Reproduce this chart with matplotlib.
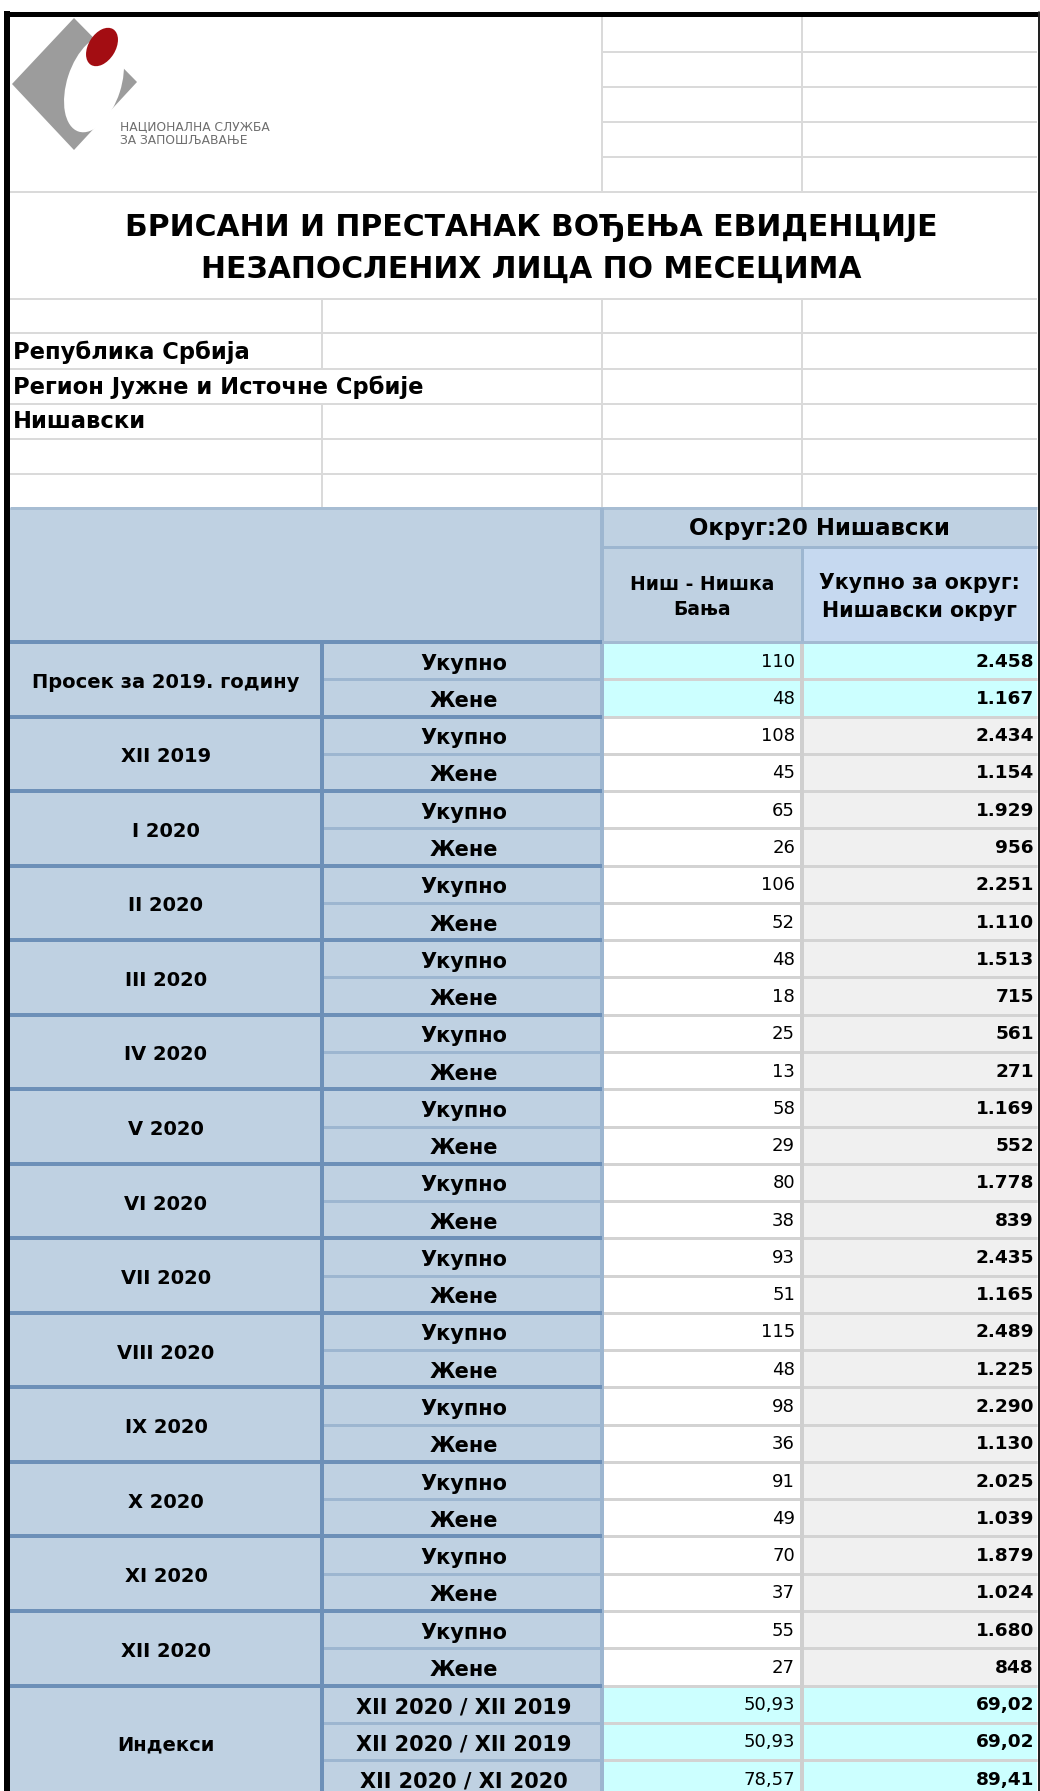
import matplotlib.pyplot as plt
from matplotlib.patches import Rectangle, Polygon, Ellipse

plt.rcParams['font.family'] = ['DejaVu Sans']

# ---- data read from the sheet ----
title_lines = ["БРИСАНИ И ПРЕСТАНАК ВОЂЕЊА ЕВИДЕНЦИЈЕ",
               "НЕЗАПОСЛЕНИХ ЛИЦА ПО МЕСЕЦИМА"]
area_labels = ["Република Србија", "Регион Јужне и Источне Србије", "Нишавски"]
district_header = "Округ:20 Нишавски"
col_headers = ["Ниш - Нишка\nБања", "Укупно за округ:\nНишавски округ"]

periods = ["Просек за 2019. годину", "XII 2019", "I 2020", "II 2020", "III 2020",
           "IV 2020", "V 2020", "VI 2020", "VII 2020", "VIII 2020", "IX 2020",
           "X 2020", "XI 2020", "XII 2020"]
sub_labels = ["Укупно", "Жене"]
nis_total = [110, 108, 65, 106, 48, 25, 58, 80, 93, 115, 98, 91, 70, 55]
nis_women = [48, 45, 26, 52, 18, 13, 29, 38, 51, 48, 36, 49, 37, 27]
okrug_total = [2458, 2434, 1929, 2251, 1513, 561, 1169, 1778, 2435, 2489, 2290, 2025, 1879, 1680]
okrug_women = [1167, 1154, 956, 1110, 715, 271, 552, 839, 1165, 1225, 1130, 1039, 1024, 848]

index_group = "Индекси"
index_labels = ["XII 2020 / XII 2019", "XII 2020 / XII 2019", "XII 2020 / XI 2020"]
index_nis = [50.93, 50.93, 78.57]
index_okrug = [69.02, 69.02, 89.41]

# ---- layout (pixels) ----
W, H = 1040, 1791
X0, X1, X2, X3, X4 = 10, 322, 602, 802, 1037
TOP_LINES = [52, 87, 122, 157]
MID_LINES = [192, 299, 333, 369, 404, 439, 474]
HEAD_TOP, HEAD_MID, DATA_TOP = 508, 547, 642
ROW_H = 37.27

HEAD = '#bfd1e2'
HEAD2 = '#c6d9f0'
CYAN = '#ccffff'
GREYCELL = '#f0f0f0'
GRID = '#dadada'
DARKBLUE = '#6d90b8'
LIGHTBLUE = '#9db6d0'
TXT = '#000000'


def px(v):
    return v * 0.72


def fill(ax, x0, y0, x1, y1, color, z=1):
    ax.add_patch(Rectangle((x0, y0), x1 - x0, y1 - y0, facecolor=color,
                           edgecolor='none', zorder=z))


def hline(ax, y, x0, x1, color, w, z=3):
    ax.plot([x0, x1], [y, y], color=color, lw=px(w), solid_capstyle='butt', zorder=z)


def vline(ax, x, y0, y1, color, w, z=3):
    ax.plot([x, x], [y0, y1], color=color, lw=px(w), solid_capstyle='butt', zorder=z)


def fmt_int(v):
    return f"{v:,}".replace(",", ".")


def fmt_idx(v):
    return f"{v:.2f}".replace(".", ",")


fig = plt.figure(figsize=(W / 100, H / 100), dpi=100)
ax = fig.add_axes([0, 0, 1, 1])
ax.set_xlim(0, W)
ax.set_ylim(H, 0)
ax.axis('off')

# ---- logo ----
ax.add_patch(Polygon([(12, 84), (74, 18), (137, 82), (74, 150)], closed=True,
                     facecolor='#9c9c9c', edgecolor='none', zorder=2))
ax.add_patch(Ellipse((94, 84), 54, 100, angle=18, facecolor='white', edgecolor='none', zorder=2))
ax.add_patch(Ellipse((102, 47), 27, 42, angle=32, facecolor='#a30d12', edgecolor='none', zorder=2))
ax.text(120, 127, "НАЦИОНАЛНА СЛУЖБА", fontsize=8.8, color='#6e6e6e', va='center', zorder=4)
ax.text(120, 141, "ЗА ЗАПОШЉАВАЊЕ", fontsize=8.8, color='#6e6e6e', va='center', zorder=4)

# ---- upper grid ----
for y in TOP_LINES:
    hline(ax, y, X2, X4, GRID, 2)
for x in (X2, X3):
    vline(ax, x, 16, 192, GRID, 2)
for y in MID_LINES:
    hline(ax, y, X0, X4, GRID, 2)
for x in (X2, X3):
    vline(ax, x, 299, HEAD_TOP, GRID, 2)
vline(ax, X1, 299, 369, GRID, 2)
vline(ax, X1, 404, HEAD_TOP, GRID, 2)

for i, line in enumerate(title_lines):
    ax.text(531, 227 + i * 42, line, fontsize=21.5, fontweight='bold', color=TXT,
            ha='center', va='center', zorder=4)
for i, lab in enumerate(area_labels):
    ax.text(13, 352 + i * 35, lab, fontsize=16.3, fontweight='bold', color=TXT,
            va='center', zorder=4)

# ---- header block ----
fill(ax, X0, HEAD_TOP, X4, DATA_TOP, HEAD)
fill(ax, X3, HEAD_MID, X4, DATA_TOP, HEAD2)
hline(ax, HEAD_TOP, X0, X4, '#a7bdd3', 3)
hline(ax, HEAD_MID, X2, X4, LIGHTBLUE, 3)
vline(ax, X2, HEAD_TOP, DATA_TOP, LIGHTBLUE, 4)
vline(ax, X3, HEAD_MID, DATA_TOP, LIGHTBLUE, 3)
ax.text((X2 + X4) / 2, 528, district_header, fontsize=16.5, fontweight='bold',
        color=TXT, ha='center', va='center', zorder=4)
for cx, lab, fs in zip(((X2 + X3) / 2, (X3 + X4) / 2), col_headers, (13.5, 14.8)):
    ax.text(cx, 597, lab, fontsize=fs, fontweight='bold', color=TXT, ha='center',
            va='center', linespacing=1.45, zorder=4)

# ---- body rows ----
rows = []
for i, p in enumerate(periods):
    cyan = (i == 0)
    rows.append((sub_labels[0], fmt_int(nis_total[i]), fmt_int(okrug_total[i]), cyan))
    rows.append((sub_labels[1], fmt_int(nis_women[i]), fmt_int(okrug_women[i]), cyan))
for lab, a, b in zip(index_labels, index_nis, index_okrug):
    rows.append((lab, fmt_idx(a), fmt_idx(b), True))

groups = [(p, 2) for p in periods] + [(index_group, len(index_labels))]

for k, (lab, a, b, cyan) in enumerate(rows):
    y0 = DATA_TOP + k * ROW_H
    y1 = y0 + ROW_H
    yc = (y0 + y1) / 2 + 1
    fill(ax, X1, y0, X2, y1, HEAD)
    fill(ax, X2, y0, X3, y1, CYAN if cyan else 'white')
    fill(ax, X3, y0, X4, y1, CYAN if cyan else GREYCELL)
    hline(ax, y0, X2, X4, '#d3d3d3', 3)
    hline(ax, y0, X1, X2, LIGHTBLUE, 3)
    ax.text((X1 + X2) / 2 + 2, yc + 2, lab, fontsize=15, fontweight='bold', color=TXT,
            ha='center', va='center', zorder=4)
    ax.text(X3 - 7, yc, a, fontsize=13, color=TXT, ha='right', va='center', zorder=4)
    ax.text(X4 - 3, yc, b, fontsize=13.3, fontweight='bold', color=TXT, ha='right',
            va='center', zorder=4)

k = 0
for name, n in groups:
    y0 = DATA_TOP + k * ROW_H
    y1 = y0 + n * ROW_H
    fill(ax, X0, y0, X1, y1, HEAD)
    hline(ax, y0, X0, X2, DARKBLUE, 4, z=3.5)
    ax.text((X0 + X1) / 2, (y0 + y1) / 2 + 3, name, fontsize=14, fontweight='bold',
            color=TXT, ha='center', va='center', zorder=4)
    k += n

body_bottom = DATA_TOP + len(rows) * ROW_H
hline(ax, DATA_TOP, X2, X4, '#a3bad2', 3, z=3.5)
vline(ax, X1, DATA_TOP, body_bottom, DARKBLUE, 4)
vline(ax, X2, DATA_TOP, body_bottom, LIGHTBLUE, 4)
vline(ax, X3, DATA_TOP, body_bottom, '#cfcfcf', 4)

# ---- outer sheet frame ----
hline(ax, 13.5, 4, W, 'black', 5, z=5)
vline(ax, 7, 11, H, 'black', 6, z=5)
vline(ax, 1038.5, 11, H, '#222222', 3, z=5)

fig.savefig("out.png", dpi=100)
